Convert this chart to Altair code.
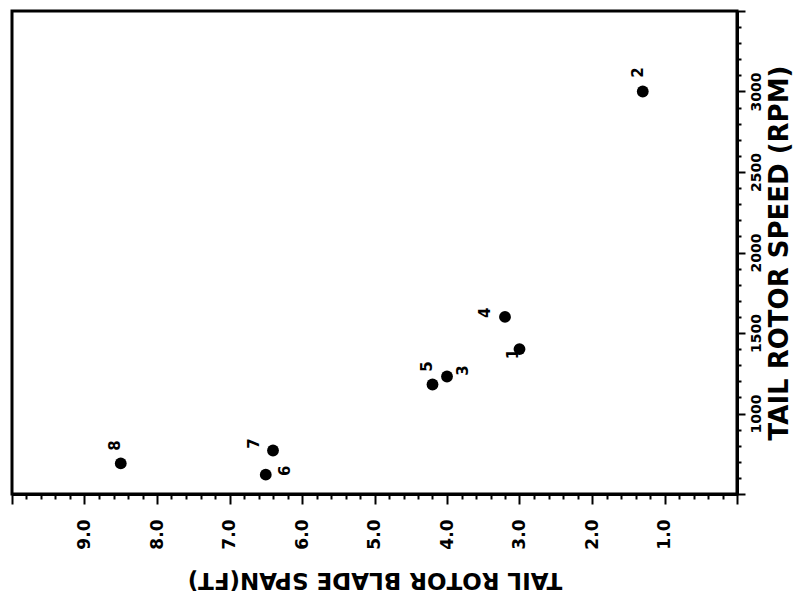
import altair as alt
import numpy as np
import pandas as pd

# Test runs: tail rotor blade span vs. tail rotor speed
run_ids = ["1", "2", "3", "4", "5", "6", "7", "8"]
blade_span_ft = [3.0, 1.3, 4.0, 3.2, 4.2, 6.5, 6.4, 8.5]
rotor_speed_rpm = [1400, 3000, 1230, 1600, 1180, 620, 770, 690]

# Axis tick values (minor ticks unlabeled)
span_ticks = [float(round(v, 1)) for v in np.arange(0, 10.01, 0.2)]
speed_ticks = [int(v) for v in np.arange(500, 3501, 100)]

df = pd.DataFrame({"run": run_ids, "span": blade_span_ft, "rpm": rotor_speed_rpm})

FONT = "DejaVu Sans"

x_enc = alt.X(
    "span:Q",
    scale=alt.Scale(domain=[10, 0], nice=False, zero=False),
    axis=alt.Axis(
        values=span_ticks,
        tickCount=500,
        labelExpr="(abs(datum.value - round(datum.value)) < 0.001 && datum.value >= 1 && datum.value <= 9) ? format(datum.value, '.1f') : ''",
        labelAngle=270,
        labelFontSize=17,
        labelFontWeight="bold",
        labelFont=FONT,
        labelPadding=15,
        labelOverlap=False,
        labelBound=False,
        labelFlush=False,
        tickSize={"condition": {"test": "abs(datum.value - round(datum.value)) < 0.001", "value": 10}, "value": 5},
        tickWidth=2,
        tickColor="black",
        domainColor="black",
        domainWidth=3,
        grid=False,
        title="TAIL ROTOR BLADE SPAN(FT)",
        titleAngle=180,
        titleFont=FONT,
        titleFontSize=23,
        titleFontWeight="bold",
        titlePadding=41,
        titleColor="black",
    ),
)

y_enc = alt.Y(
    "rpm:Q",
    scale=alt.Scale(domain=[500, 3500], nice=False, zero=False),
    axis=alt.Axis(
        orient="right",
        values=speed_ticks,
        tickCount=500,
        labelExpr="(datum.value % 500 === 0 && datum.value >= 1000 && datum.value <= 3000) ? datum.value : ''",
        labelAngle=270,
        labelFontSize=14,
        labelFontWeight="bold",
        labelFont=FONT,
        labelPadding=4,
        labelOverlap=False,
        labelBound=False,
        labelFlush=False,
        tickSize={"condition": {"test": "datum.value % 500 === 0", "value": 8}, "value": 4},
        tickWidth=2,
        tickColor="black",
        domainColor="black",
        domainWidth=3,
        grid=False,
        title="TAIL ROTOR SPEED (RPM)",
        titleAngle=270,
        titleFont=FONT,
        titleFontSize=26,
        titleFontWeight="bold",
        titlePadding=29,
        titleColor="black",
    ),
)

points = alt.Chart(df).mark_circle(size=140, color="black", opacity=1).encode(x=x_enc, y=y_enc)

# Run-number labels, offset from each point in screen pixels (right, down)
label_offsets = {
    "1": (-7, 5),
    "2": (-5, -19),
    "3": (16, -6),
    "4": (-20, -4),
    "5": (-6, -18),
    "6": (19, -4),
    "7": (-19, -7),
    "8": (-6, -18),
}

layers = [points]
for rid, (ox, oy) in label_offsets.items():
    layers.append(
        alt.Chart(df)
        .transform_filter(alt.datum.run == rid)
        .mark_text(
            angle=270,
            dx=-oy,
            dy=ox,
            font=FONT,
            fontSize=15,
            fontWeight="bold",
            color="black",
            align="center",
            baseline="middle",
        )
        .encode(x="span:Q", y="rpm:Q", text="run:N")
    )

chart = (
    alt.layer(*layers)
    .properties(
        width=725,
        height=483,
        autosize=alt.AutoSizeParams(type="none"),
        padding={"left": 12, "top": 11, "right": 59, "bottom": 112},
        background="white",
    )
    .configure_view(stroke="black", strokeWidth=3)
)

chart.save("out.html", embed_options={"renderer": "svg", "actions": False})
